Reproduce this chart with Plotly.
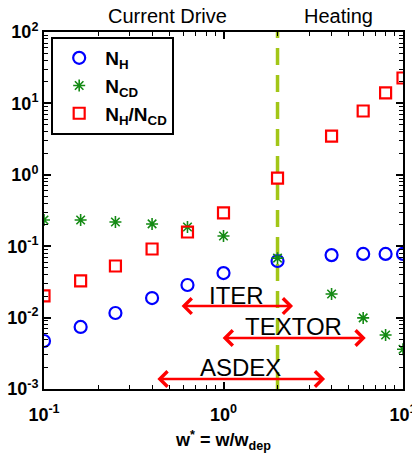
import numpy as np
import plotly.graph_objects as go

w_star = [0.1, 0.16, 0.25, 0.4, 0.63, 1.0, 2.0, 4.0, 6.0, 8.0, 10.0]
N_H = [0.0047, 0.0074, 0.0116, 0.0188, 0.0286, 0.042, 0.062, 0.075, 0.078, 0.078, 0.078]
N_CD = [0.233, 0.233, 0.218, 0.205, 0.186, 0.139, 0.068, 0.0214, 0.0099, 0.0057, 0.0036]
ratio = [0.0201, 0.0326, 0.0528, 0.0914, 0.158, 0.292, 0.90, 3.49, 7.83, 14.0, 22.7]

boundary_x = 2.0
y_span = [1e-3, 1e2]

devices = ["ITER", "TEXTOR", "ASDEX"]
dev_start = [0.573, 0.97, 0.42]
dev_end = [2.44, 6.2, 3.68]
dev_y = [0.0145, 0.00518, 0.00138]
dev_label_y = [0.0201, 0.0074, 0.00203]

xtick_vals = [0.1, 1, 10]
xtick_text = ["10<sup>-1</sup>", "10<sup>0</sup>", "10<sup>1</sup>"]
ytick_vals = [1e-3, 1e-2, 1e-1, 1, 10, 100]
ytick_text = ["10<sup>-3</sup>", "10<sup>-2</sup>", "10<sup>-1</sup>", "10<sup>0</sup>", "10<sup>1</sup>", "10<sup>2</sup>"]

FONT = "Liberation Sans, Arial, sans-serif"

fig = go.Figure()

fig.add_trace(go.Scatter(
    x=[boundary_x, boundary_x], y=y_span, mode="lines",
    line=dict(color="#a2c617", width=3.5, dash="17px,10px"),
    showlegend=False, hoverinfo="skip"))

fig.add_trace(go.Scatter(
    x=w_star, y=N_H, mode="markers", name="<b>N<sub>H</sub></b>",
    marker=dict(symbol="circle-open", size=12, color="#0000ff", line=dict(width=2.2))))
fig.add_trace(go.Scatter(
    x=w_star, y=N_CD, mode="markers", name="<b>N<sub>CD</sub></b>",
    marker=dict(symbol="asterisk-open", size=10, color="#148a14", line=dict(width=1.6, color="#148a14"))))
fig.add_trace(go.Scatter(
    x=w_star, y=ratio, mode="markers", name="<b>N<sub>H</sub>/N<sub>CD</sub></b>",
    marker=dict(symbol="square-open", size=11, color="#ff0000", line=dict(width=2.2))))

for name, x0, x1, y, ly in zip(devices, dev_start, dev_end, dev_y, dev_label_y):
    fig.add_annotation(
        x=np.log10(x1), y=np.log10(y), ax=np.log10(x0), ay=np.log10(y),
        xref="x", yref="y", axref="x", ayref="y", text="",
        showarrow=True, arrowhead=4, startarrowhead=4, arrowside="end+start",
        arrowsize=1.2, startarrowsize=1.2, arrowwidth=2.5, arrowcolor="#ff0000")
    fig.add_annotation(
        x=np.log10(np.sqrt(x0 * x1)), y=np.log10(ly), xref="x", yref="y",
        text=name, showarrow=False, font=dict(family=FONT, size=24, color="black"))

fig.add_annotation(x=0.343, y=1.0, xref="paper", yref="paper", xanchor="center",
                   yanchor="bottom", yshift=3, text="Current Drive", showarrow=False,
                   font=dict(family=FONT, size=20, color="black"))
fig.add_annotation(x=0.819, y=1.0, xref="paper", yref="paper", xanchor="center",
                   yanchor="bottom", yshift=3, text="Heating", showarrow=False,
                   font=dict(family=FONT, size=20, color="black"))

axis_common = dict(
    showline=True, linecolor="black", linewidth=2, mirror="ticks",
    ticks="inside", ticklen=7, tickwidth=1.5, tickcolor="black",
    showgrid=False, zeroline=False, tickmode="array", ticklabeloverflow="allow",
    automargin=False,
    tickfont=dict(family=FONT, size=18, color="black", weight="bold"),
    minor=dict(ticks="inside", ticklen=4, tickwidth=1, tickcolor="black", showgrid=False, dtick="D1"),
)

fig.update_xaxes(type="log", range=[-1, 1], tickvals=xtick_vals, ticktext=xtick_text,
                 ticklabelstandoff=8,
                 title=dict(text="<b>w<sup>*</sup> = w/w<sub>dep</sub></b>",
                            font=dict(family=FONT, size=18, color="black"), standoff=10),
                 **axis_common)
fig.update_yaxes(type="log", range=[-3, 2], tickvals=ytick_vals, ticktext=ytick_text,
                 **axis_common)

fig.update_layout(
    width=412, height=460,
    margin=dict(l=44, r=9, t=32, b=71),
    plot_bgcolor="white", paper_bgcolor="white",
    font=dict(family=FONT, color="black"),
    legend=dict(x=0.02, y=0.986, xanchor="left", yanchor="top",
                bordercolor="black", borderwidth=2, bgcolor="white",
                itemwidth=42, tracegroupgap=4,
                font=dict(family=FONT, size=19, color="black")),
)

fig.write_html("out.html")
